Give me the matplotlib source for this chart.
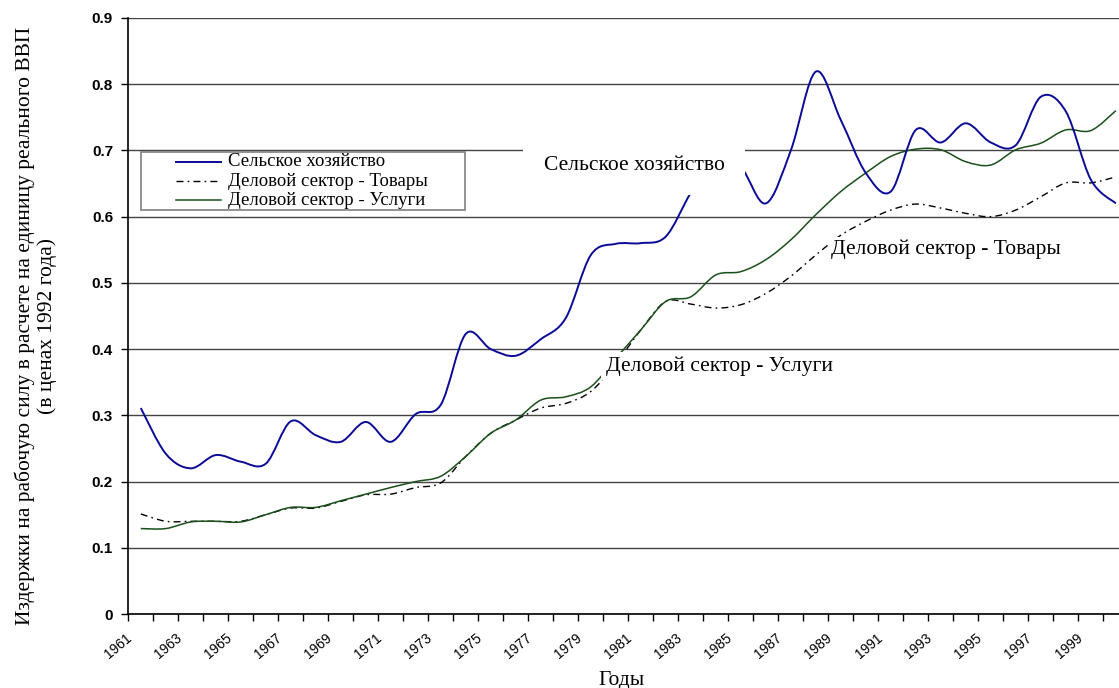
import numpy as np
import matplotlib
matplotlib.use('Agg')
import matplotlib.pyplot as plt
import matplotlib.transforms as mtransforms
from matplotlib.path import Path
from matplotlib.patches import PathPatch, Rectangle
from matplotlib.lines import Line2D

years = list(range(1961, 2001))
agriculture = [0.311, 0.242, 0.220, 0.240, 0.230, 0.227, 0.291, 0.270, 0.260, 0.290,
               0.260, 0.302, 0.316, 0.423, 0.400, 0.390, 0.415, 0.447, 0.542, 0.559,
               0.560, 0.570, 0.636, 0.690, 0.675, 0.620, 0.700, 0.819, 0.746, 0.666,
               0.638, 0.731, 0.712, 0.741, 0.712, 0.708, 0.781, 0.759, 0.656, 0.620]
goods = [0.151, 0.140, 0.140, 0.140, 0.140, 0.150, 0.160, 0.160, 0.170, 0.180,
         0.181, 0.191, 0.198, 0.238, 0.273, 0.293, 0.311, 0.318, 0.336, 0.378,
         0.429, 0.472, 0.468, 0.462, 0.467, 0.484, 0.510, 0.542, 0.572, 0.593,
         0.610, 0.619, 0.613, 0.605, 0.600, 0.610, 0.630, 0.651, 0.651, 0.660]
services = [0.129, 0.129, 0.139, 0.140, 0.139, 0.150, 0.161, 0.161, 0.171, 0.181,
            0.191, 0.200, 0.208, 0.238, 0.273, 0.293, 0.323, 0.328, 0.343, 0.386,
            0.429, 0.472, 0.479, 0.512, 0.517, 0.535, 0.565, 0.603, 0.638, 0.666,
            0.691, 0.702, 0.701, 0.683, 0.678, 0.701, 0.711, 0.731, 0.730, 0.760]

labels = ['Сельское хозяйство', 'Деловой сектор - Товары', 'Деловой сектор - Услуги']
ylabel = 'Издержки на рабочую силу в расчете на единицу реального ВВП\n(в ценах 1992 года)'
xlabel = 'Годы'

BLUE = '#0a0a96'
GREEN = '#1b4f1b'
DASH = (0, (5, 3, 1.2, 3))
SERIF = 'Liberation Serif'
SANS = 'Liberation Sans'

W, H = 1119, 688


def smooth_path(xs, ys):
    # excel-like smoothed line: bezier segments through every point
    pts = np.column_stack([xs, ys]).astype(float)
    n = len(pts)
    verts = [pts[0]]
    codes = [Path.MOVETO]
    for i in range(n - 1):
        p0 = pts[max(i - 1, 0)]
        p1 = pts[i]
        p2 = pts[i + 1]
        p3 = pts[min(i + 2, n - 1)]
        verts += [p1 + (p2 - p0) / 6, p2 - (p3 - p1) / 6, p2]
        codes += [Path.CURVE4] * 3
    return Path(verts, codes)


fig = plt.figure(figsize=(W / 100, H / 100), dpi=100)
ax = fig.add_axes([128.3 / W, 74 / H, 1000 / W, 596 / H])
ax.set_xlim(1960.5, 2000.5)
ax.set_ylim(0, 0.9)

for vals, color, ls, lw in [(goods, 'black', DASH, 1.0),
                            (services, GREEN, '-', 1.1),
                            (agriculture, BLUE, '-', 1.4)]:
    ax.add_patch(PathPatch(smooth_path(years, vals), fill=False, edgecolor=color,
                           linestyle=ls, linewidth=lw, zorder=3))

# grid and axes
ax.set_axisbelow(True)
ax.set_yticks(np.arange(0, 0.91, 0.1))
ax.yaxis.grid(True, color='#444444', linewidth=1.0)
ax.set_yticklabels(['0'] + ['%.1f' % v for v in np.arange(0.1, 0.91, 0.1)],
                   fontfamily=SANS, fontweight='bold', fontsize=11)
ax.tick_params(axis='y', length=5, width=1, pad=6)

ax.set_xticks([y - 0.5 for y in years + [2001]], minor=True)
ax.set_xticks([y - 0.5 for y in years if y % 2 == 1])
ax.set_xticklabels([str(y) for y in years if y % 2 == 1], rotation=40,
                   ha='right', va='center', rotation_mode='anchor',
                   fontfamily=SANS, fontsize=10)
ax.tick_params(axis='x', which='both', length=5, width=1, pad=11)
offset = mtransforms.ScaledTranslation(2 / 100, 0, fig.dpi_scale_trans)
for lab in ax.get_xticklabels():
    lab.set_transform(lab.get_transform() + offset)

for side in ['top', 'right']:
    ax.spines[side].set_visible(False)
for side in ['left', 'bottom']:
    ax.spines[side].set_linewidth(1.2)

# annotations with white boxes
ax.text(1980.73, 0.678, labels[0], ha='center', va='center', fontfamily=SERIF,
        fontsize=15.5, zorder=5,
        bbox=dict(boxstyle='square,pad=0.95', fc='white', ec='none'))
ax.text(1988.6, 0.551, labels[1], ha='left', va='center', fontfamily=SERIF,
        fontsize=15.5, zorder=5,
        bbox=dict(boxstyle='square,pad=0.1', fc='white', ec='none'))
ax.text(1979.6, 0.374, labels[2], ha='left', va='center', fontfamily=SERIF,
        fontsize=15.5, zorder=5,
        bbox=dict(boxstyle='square,pad=0.2', fc='white', ec='none'))

# legend box
def fx(px):
    return px / W


def fy(py):
    return 1 - py / H


fig.patches.append(Rectangle((fx(141), fy(210)), fx(465) - fx(141), fy(152) - fy(210),
                             transform=fig.transFigure, fc='white', ec='#808080',
                             lw=1.2, zorder=6))
for row, (lab, color, ls, lw) in enumerate(zip(labels, [BLUE, 'black', GREEN],
                                               ['-', DASH, '-'], [1.4, 1.0, 1.1])):
    ry = 162 + 19 * row
    fig.lines.append(Line2D([fx(176), fx(221)], [fy(ry), fy(ry)], transform=fig.transFigure,
                            color=color, linestyle=ls, linewidth=lw, zorder=7))
    fig.text(fx(228), fy(ry), lab, ha='left', va='center', fontfamily=SERIF,
             fontsize=13.5, zorder=7)

fig.text(fx(36), fy(326), ylabel, rotation=90, ha='center', va='center',
         multialignment='center', fontfamily=SERIF, fontsize=15.5, linespacing=1.12)
fig.text(fx(622), fy(680), xlabel, ha='center', va='center', fontfamily=SERIF, fontsize=15.5)

fig.savefig('out.png', dpi=100)
